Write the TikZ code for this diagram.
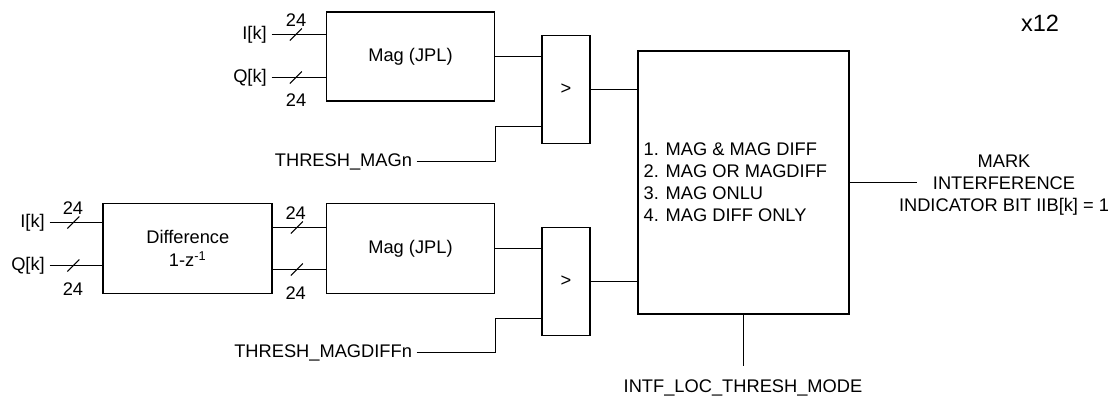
\documentclass[tikz,border=0pt]{standalone}
\usepackage{fontspec}
\setmainfont{Liberation Sans}
\usetikzlibrary{positioning, decorations.markings}
\tikzset{
  blk/.style  = {rectangle, draw, line width=1.1pt, inner sep=0pt},
  cmpbox/.style = {blk, minimum width=0.966cm, minimum height=2.16cm},
  wire/.style = {line width=0.6pt},
  bus/.style  = {wire, decoration={markings,
                 mark=at position 0.45 with {\draw[wire] (-6,6) -- (6,-6);}},
                 postaction={decorate}},
  lbl/.style  = {inner sep=2.5pt},
}

\begin{document}
\begin{tikzpicture}[
  x=0.02cm, y=-0.02cm,
  font=\fontsize{10.4}{12.5}\selectfont,
]
  \useasboundingbox (0,0) rectangle (1114,398);

  % blocks
  \node[blk, minimum width=3.36cm, minimum height=1.78cm] (magA) at (410.5,56.5) {Mag (JPL)};
  \node[blk, minimum width=3.38cm, minimum height=1.8cm, align=center] (diff) at (187.8,248.5)
    {Difference\\[1pt]1-z\textsuperscript{-1}};
  \node[blk, minimum width=3.36cm, minimum height=1.8cm] (magB) at (410.5,248.5) {Mag (JPL)};
  \node[cmpbox] (cmpA) at (565.85,89.5) {>};
  \node[cmpbox] (cmpB) at (565.85,281.5) {>};
  \node[blk, minimum width=4.212cm, minimum height=5.26cm] (big) at (743.5,182.5) {};
  \node[anchor=west, align=left, inner sep=0pt] (modes) at (643.3,182.3)
    {1. MAG \& MAG DIFF\\2. MAG OR MAGDIFF\\3. MAG ONLU\\4. MAG DIFF ONLY};

  % inputs
  \node[lbl, anchor=east] (iA) at (271.5,34.5) {I[k]};
  \node[lbl, anchor=east] (qA) at (271.5,77.5) {Q[k]};
  \node[lbl, anchor=east] (iB) at (49.5,222.5) {I[k]};
  \node[lbl, anchor=east] (qB) at (49.5,265.5) {Q[k]};
  \node[lbl, anchor=east] (thA) at (416.7,161.5) {THRESH\_MAGn};
  \node[lbl, anchor=east] (thB) at (416.7,352.5) {THRESH\_MAGDIFFn};

  \draw[bus] (iA.east) -- (iA.east -| magA.west);
  \draw[bus] (qA.east) -- (qA.east -| magA.west);
  \draw[bus] (iB.east) -- (iB.east -| diff.west);
  \draw[bus] (qB.east) -- (qB.east -| diff.west);
  \draw[bus] ([yshift=0.42cm]diff.east) coordinate (d1) -- (d1 -| magB.west);
  \draw[bus] ([yshift=-0.42cm]diff.east) coordinate (d2) -- (d2 -| magB.west);

  % bus widths
  \node (wA1) at (296,20) {24};
  \node (wA2) at (296,100) {24};
  \node (wB1) at (73,208.3) {24};
  \node (wB2) at (73,289.3) {24};
  \node (wC1) at (295.7,212.7) {24};
  \node (wC2) at (295.7,293.3) {24};

  % comparators
  \draw[wire] (magA.east) -- (magA.east -| cmpA.west);
  \draw[wire] (magB.east) -- (magB.east -| cmpB.west);
  \coordinate (cA) at ([yshift=0.36cm]cmpA.south west);
  \coordinate (cB) at ([yshift=0.36cm]cmpB.south west);
  \draw[wire] (thA.east) -- (thA.east -| magA.east) |- (cA);
  \draw[wire] (thB.east) -- (thB.east -| magB.east) |- (cB);
  \draw[wire] (cmpA.east) -- (cmpA.east -| big.west);
  \draw[wire] (cmpB.east) -- (cmpB.east -| big.west);

  % output and mode
  \coordinate (outEnd) at (916.7,182.5);
  \draw[wire] (big.east) -- (outEnd);
  \node[align=center] (mark) at (1004,185)
    {MARK\\INTERFERENCE\\INDICATOR BIT IIB[k] = 1};
  \coordinate (modeEnd) at (743.5,366);
  \draw[wire] (big.south) -- (modeEnd);
  \node (mode) at (743,388) {INTF\_LOC\_THRESH\_MODE};

  \node[font=\fontsize{13.4}{16}\selectfont] (cnt) at (1040,23.3) {x12};
\end{tikzpicture}
\end{document}
